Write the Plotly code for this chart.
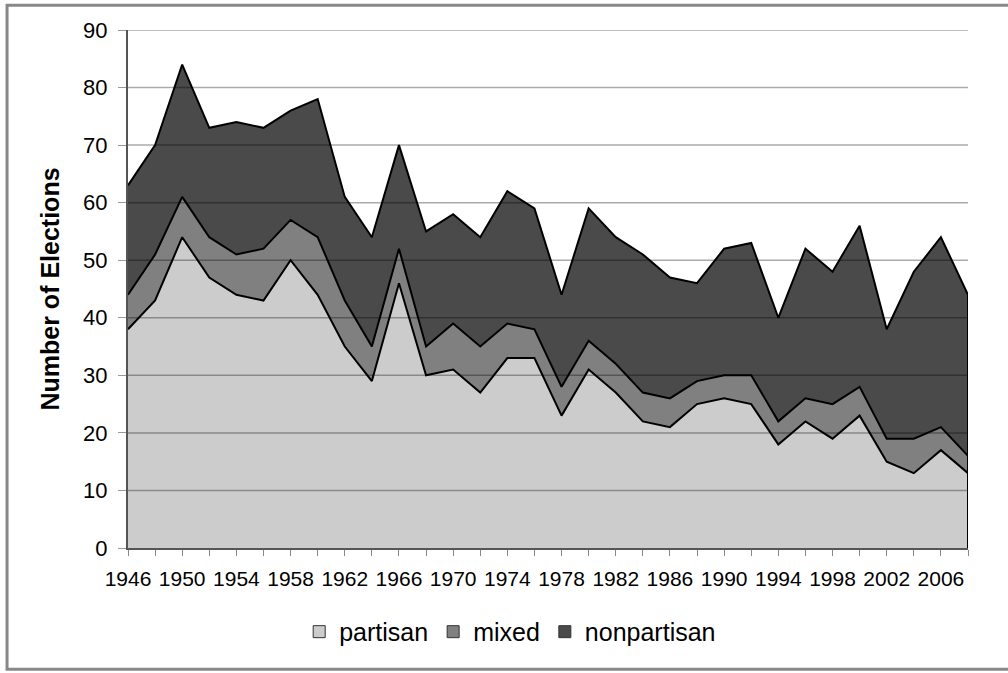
import plotly.graph_objects as go

years = list(range(1946, 2010, 2))
partisan = [38, 43, 54, 47, 44, 43, 50, 44, 35, 29, 46, 30, 31, 27, 33, 33,
            23, 31, 27, 22, 21, 25, 26, 25, 18, 22, 19, 23, 15, 13, 17, 13]
mixed_top = [44, 51, 61, 54, 51, 52, 57, 54, 43, 35, 52, 35, 39, 35, 39, 38,
             28, 36, 32, 27, 26, 29, 30, 30, 22, 26, 25, 28, 19, 19, 21, 16]
total = [63, 70, 84, 73, 74, 73, 76, 78, 61, 54, 70, 55, 58, 54, 62, 59,
         44, 59, 54, 51, 47, 46, 52, 53, 40, 52, 48, 56, 38, 48, 54, 44]
mixed = [m - p for m, p in zip(mixed_top, partisan)]
nonpartisan = [t - m for t, m in zip(total, mixed_top)]

series_names = ["partisan", "mixed", "nonpartisan"]
series_values = [partisan, mixed, nonpartisan]
series_colors = ["#cccccc", "#808080", "#4a4a4a"]
y_ticks = list(range(0, 100, 10))
x_labels = [str(y) if (y - 1946) % 4 == 0 else "" for y in years]

FONT = "Liberation Sans, Arial, sans-serif"

fig = go.Figure()
for name, vals, col in zip(series_names, series_values, series_colors):
    fig.add_trace(go.Scatter(
        x=years, y=vals, stackgroup="one", mode="lines",
        line=dict(color="black", width=2), fillcolor=col,
        name=name, showlegend=False, hoverinfo="skip"))
# right edge of stacked area
fig.add_trace(go.Scatter(x=[years[-1], years[-1]], y=[0, total[-1]], mode="lines",
                         line=dict(color="black", width=2), showlegend=False,
                         hoverinfo="skip"))
# legend entries
for name, col in zip(series_names, series_colors):
    fig.add_trace(go.Scatter(
        x=[None], y=[None], mode="markers", name=name,
        marker=dict(symbol="square", size=12, color=col,
                    line=dict(color="#333333", width=1))))

shapes = []
for t in y_ticks[1:]:
    shapes.append(dict(type="line", xref="paper", yref="y", x0=0, x1=1, y0=t, y1=t,
                       line=dict(color="rgba(0,0,0,0.33)", width=1.5), layer="above"))
# outer chart frame
shapes.append(dict(type="rect", xref="paper", yref="paper",
                   x0=-0.144, x1=1.05, y0=-0.234, y1=1.048,
                   line=dict(color="#888888", width=3), layer="above"))

fig.update_layout(
    width=1008, height=673,
    margin=dict(l=128, r=40, t=30, b=125),
    paper_bgcolor="white", plot_bgcolor="white",
    font=dict(family=FONT, size=20, color="black"),
    shapes=shapes,
    showlegend=True,
    legend=dict(orientation="h", x=0.455, xanchor="center", y=-0.162, yanchor="middle",
                font=dict(size=25), itemwidth=30, tracegroupgap=0,
                traceorder="normal"),
    xaxis=dict(range=[years[0], years[-1]], tickmode="array", tickvals=years,
               ticktext=x_labels, tickangle=0, ticks="outside", ticklen=6,
               tickcolor="#888888", showgrid=False, showline=True,
               linecolor="#555555", linewidth=2, zeroline=False,
               tickfont=dict(size=21), ticklabelstandoff=5),
    yaxis=dict(range=[0, 90], tickvals=y_ticks, ticks="outside", ticklen=8,
               tickcolor="#999999", showgrid=False, showline=True,
               linecolor="#555555", linewidth=2, zeroline=False,
               tickfont=dict(size=22), ticklabelstandoff=6,
               title=dict(text="<b>Number of Elections</b>", font=dict(size=25),
                          standoff=16)),
)

fig.write_html("out.html", post_script="document.body.style.margin='0';",
               config={"displayModeBar": False})
